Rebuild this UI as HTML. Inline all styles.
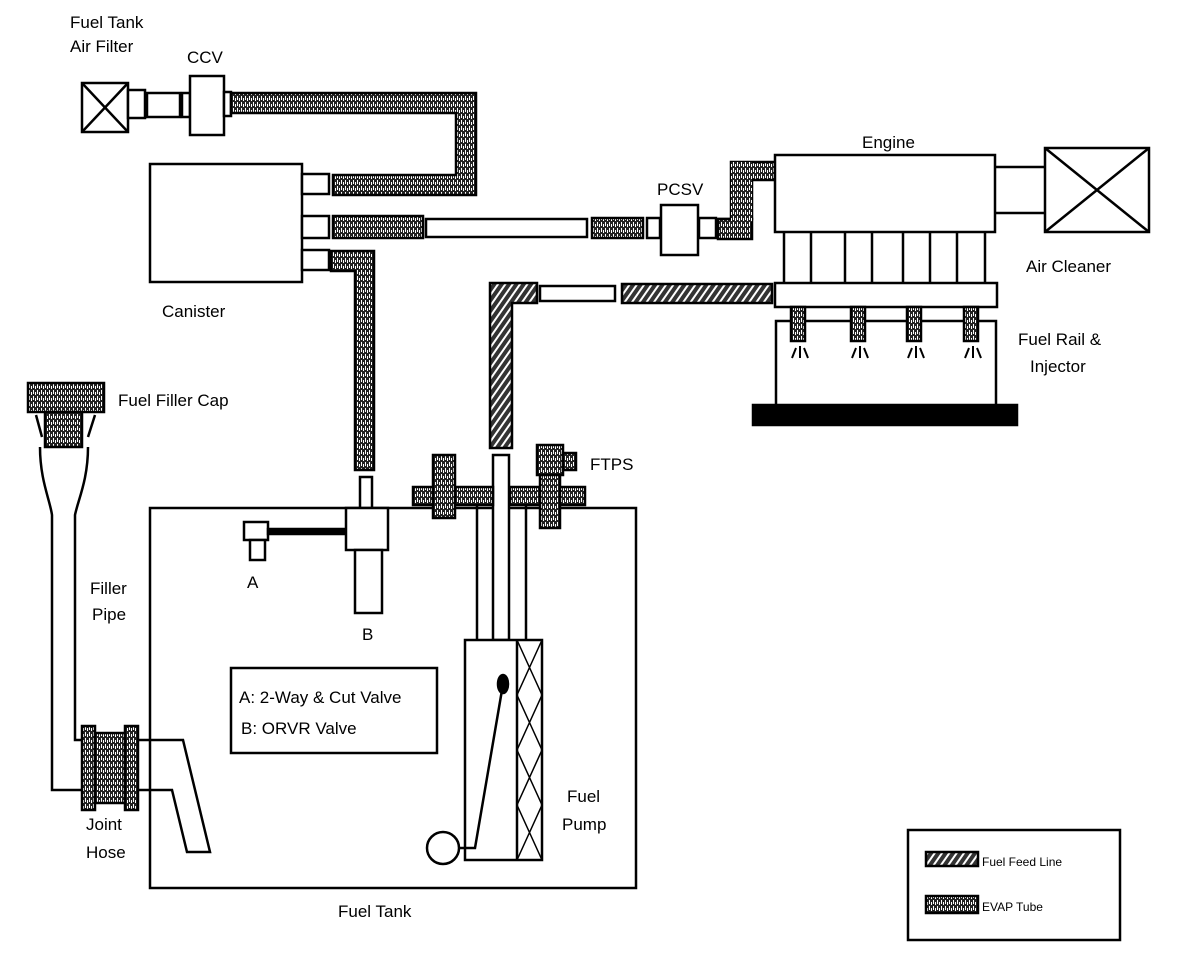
<!DOCTYPE html>
<html><head><style>
html,body{margin:0;padding:0;background:#fff;}
svg{display:block;}
text{font-family:"Liberation Sans",sans-serif;fill:#000;}
</style></head><body>
<svg width="1184" height="964" viewBox="0 0 1184 964" xmlns="http://www.w3.org/2000/svg">
<defs>
<pattern id="ev" width="4" height="6" patternUnits="userSpaceOnUse">
<rect width="4" height="6" fill="#222"/>
<rect x="1" y="0" width="1" height="4" fill="#fff"/>
<rect x="3" y="2" width="1" height="3" fill="#fff"/>
</pattern>
<pattern id="ff" width="6" height="6" patternUnits="userSpaceOnUse" patternTransform="rotate(35)">
<rect width="6" height="6" fill="#333"/>
<rect x="0" y="0" width="2" height="6" fill="#fff"/>
</pattern>
</defs>
<g stroke="#000" stroke-width="2.5" fill="#fff">
<rect x="82" y="83" width="46" height="49"/>
<line x1="82" y1="83" x2="128" y2="132"/><line x1="128" y1="83" x2="82" y2="132"/>
<rect x="128" y="90" width="17" height="28"/>
<rect x="147" y="93" width="33" height="24"/>
<rect x="182" y="93" width="8" height="24"/>
<rect x="190" y="76" width="34" height="59"/>
<rect x="224" y="92" width="7" height="24"/>
<path d="M231 93 H476 V195 H333 V175 H456 V113 H231 Z" fill="url(#ev)"/>
<rect x="150" y="164" width="152" height="118"/>
<rect x="302" y="174" width="27" height="20"/>
<rect x="302" y="216" width="27" height="22"/>
<rect x="302" y="250" width="27" height="20"/>
<rect x="333" y="216" width="90" height="22" fill="url(#ev)"/>
<rect x="426" y="219" width="161" height="18"/>
<rect x="592" y="218" width="51" height="20" fill="url(#ev)"/>
<rect x="647" y="218" width="13" height="20"/>
<rect x="661" y="205" width="37" height="50"/>
<rect x="699" y="218" width="17" height="20"/>
<path d="M718 219 H752 V180 H775 V162 H731 V219" fill="url(#ev)"/>
<rect x="718" y="219" width="34" height="20" fill="url(#ev)"/>
<rect x="731" y="162" width="21" height="60" fill="url(#ev)" stroke="none"/>
<path d="M331 251 H374 V470 H355 V271 H331 Z" fill="url(#ev)"/>
<rect x="775" y="155" width="220" height="77"/>
<line x1="995" y1="167" x2="1045" y2="167"/><line x1="995" y1="213" x2="1045" y2="213"/>
<rect x="1045" y="148" width="104" height="84"/>
<line x1="1045" y1="148" x2="1149" y2="232"/><line x1="1149" y1="148" x2="1045" y2="232"/>
<g fill="none">
<line x1="784" y1="232" x2="784" y2="283"/><line x1="811" y1="232" x2="811" y2="283"/>
<line x1="845" y1="232" x2="845" y2="283"/><line x1="872" y1="232" x2="872" y2="283"/>
<line x1="903" y1="232" x2="903" y2="283"/><line x1="930" y1="232" x2="930" y2="283"/>
<line x1="957" y1="232" x2="957" y2="283"/><line x1="985" y1="232" x2="985" y2="283"/>
</g>
<rect x="776" y="321" width="220" height="85"/>
<rect x="775" y="283" width="222" height="24"/>
<rect x="622" y="284" width="150" height="19" fill="url(#ff)"/>
<rect x="540" y="286" width="75" height="15"/>
<path d="M490 283 H537 V303 H512 V448 H490 Z" fill="url(#ff)"/>
<g fill="url(#ev)">
<rect x="791" y="307" width="14" height="34"/><rect x="851" y="307" width="14" height="34"/>
<rect x="907" y="307" width="14" height="34"/><rect x="964" y="307" width="14" height="34"/>
</g>
<g fill="none" stroke-width="2">
<path d="M792 358 L796 348 M800 346 V358 M804 348 L808 358"/>
<path d="M852 358 L856 348 M860 346 V358 M864 348 L868 358"/>
<path d="M908 358 L912 348 M916 346 V358 M920 348 L924 358"/>
<path d="M965 358 L969 348 M973 346 V358 M977 348 L981 358"/>
</g>
<rect x="753" y="405" width="264" height="20" fill="#000"/>
<rect x="28" y="383" width="76" height="29" fill="url(#ev)"/>
<rect x="45" y="412" width="37" height="35" fill="url(#ev)"/>
<path d="M36 415 L42 437 M95 415 L88 437" fill="none"/>
<path d="M40 447 C40 480 50 500 52 515 V790 H84 M88 447 C88 480 78 500 75 515 V740 H84" fill="none"/>
<rect x="82" y="726" width="13" height="84" fill="url(#ev)"/>
<rect x="95" y="733" width="30" height="70" fill="url(#ev)"/>
<rect x="125" y="726" width="13" height="84" fill="url(#ev)"/>
<path d="M138 740 H183 L210 852 H187 L172 790 H138" fill="none"/>
<rect x="150" y="508" width="486" height="380" fill="none"/>
<rect x="360" y="477" width="12" height="31"/>
<rect x="346" y="508" width="42" height="42"/>
<rect x="355" y="550" width="27" height="63"/>
<rect x="244" y="522" width="24" height="18"/>
<rect x="250" y="540" width="15" height="20"/>
<rect x="268" y="529" width="77" height="5" fill="#000"/>
<rect x="231" y="668" width="206" height="85"/>
<line x1="477" y1="505" x2="477" y2="640"/><line x1="526" y1="505" x2="526" y2="640"/>
<rect x="493" y="455" width="16" height="185"/>
<rect x="465" y="640" width="77" height="220"/>
<line x1="517" y1="640" x2="517" y2="860"/>
<path d="M517 640 L542 695 L517 750 L542 805 L517 860 M542 640 L517 695 L542 750 L517 805 L542 860" fill="none" stroke-width="1.5"/>
<path d="M459 848 H475 L502 690" fill="none"/>
<ellipse cx="503" cy="684" rx="5" ry="9" fill="#000"/>
<circle cx="443" cy="848" r="16"/>
<rect x="413" y="487" width="80" height="18" fill="url(#ev)"/>
<rect x="510" y="487" width="75" height="18" fill="url(#ev)"/>
<rect x="433" y="455" width="22" height="63" fill="url(#ev)"/>
<rect x="537" y="445" width="26" height="30" fill="url(#ev)"/>
<rect x="563" y="453" width="13" height="17" fill="url(#ev)"/>
<rect x="540" y="475" width="20" height="53" fill="url(#ev)"/>
<rect x="908" y="830" width="212" height="110"/>
<rect x="926" y="852" width="52" height="14" fill="url(#ff)"/>
<rect x="926" y="896" width="52" height="17" fill="url(#ev)"/>
</g>
<g font-size="17">
<text x="70" y="28">Fuel Tank</text>
<text x="70" y="52">Air Filter</text>
<text x="187" y="63">CCV</text>
<text x="162" y="317">Canister</text>
<text x="657" y="195">PCSV</text>
<text x="862" y="148">Engine</text>
<text x="1026" y="272">Air Cleaner</text>
<text x="1018" y="345">Fuel Rail &amp;</text>
<text x="1030" y="372">Injector</text>
<text x="118" y="406">Fuel Filler Cap</text>
<text x="590" y="470">FTPS</text>
<text x="90" y="594">Filler</text>
<text x="92" y="620">Pipe</text>
<text x="247" y="588">A</text>
<text x="362" y="640">B</text>
<text x="239" y="703">A: 2-Way &amp; Cut Valve</text>
<text x="241" y="734">B: ORVR Valve</text>
<text x="567" y="802">Fuel</text>
<text x="562" y="830">Pump</text>
<text x="86" y="830">Joint</text>
<text x="86" y="858">Hose</text>
<text x="338" y="917">Fuel Tank</text>
<text x="982" y="866" font-size="12">Fuel Feed Line</text>
<text x="982" y="911" font-size="12">EVAP Tube</text>
</g>
</svg>
</body></html>
